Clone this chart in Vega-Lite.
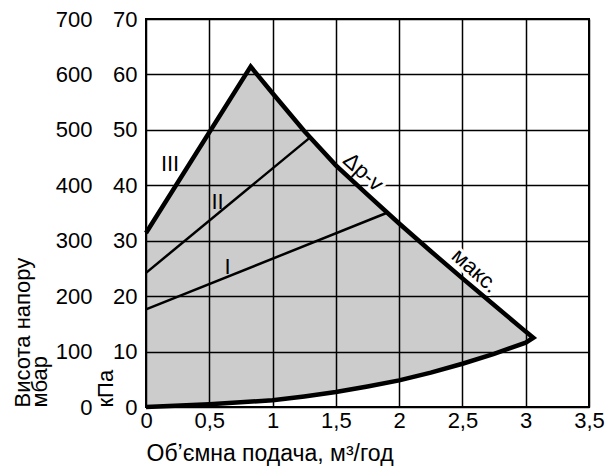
{
  "$schema": "https://vega.github.io/schema/vega-lite/v6.json",
  "width": 443,
  "height": 388,
  "autosize": {"type": "none"},
  "padding": {"left": 146, "top": 19, "right": 20, "bottom": 63},
  "background": "white",
  "config": {
    "view": {"stroke": "black", "strokeWidth": 2},
    "font": "Liberation Sans",
    "axis": {"labelFont": "Liberation Sans", "titleFont": "Liberation Sans", "labelColor": "black", "titleColor": "black", "titleFontWeight": "normal", "labelFontSize": 22, "titleFontSize": 22, "ticks": false, "domain": false}
  },
  "datasets": {
    "region": [
      {"x": 0, "top": 31.4, "bottom": 0},
      {"x": 0.5, "top": 49.9, "bottom": 0.5},
      {"x": 0.827, "top": 61.4, "bottom": 0.9},
      {"x": 1.0, "top": 56.6, "bottom": 1.2},
      {"x": 1.25, "top": 49.8, "bottom": 1.9},
      {"x": 1.5, "top": 43.6, "bottom": 2.7},
      {"x": 1.75, "top": 38.3, "bottom": 3.7},
      {"x": 2.0, "top": 33.1, "bottom": 4.8},
      {"x": 2.25, "top": 28.1, "bottom": 6.2},
      {"x": 2.5, "top": 23.2, "bottom": 7.8},
      {"x": 2.75, "top": 18.4, "bottom": 9.6},
      {"x": 3.0, "top": 13.6, "bottom": 11.6},
      {"x": 3.06, "top": 12.5, "bottom": 12.5}
    ],
    "boundary": [
      {"o": 1, "x": 0, "y": 31.4},
      {"o": 2, "x": 0.827, "y": 61.4},
      {"o": 3, "x": 1.0, "y": 56.6},
      {"o": 4, "x": 1.25, "y": 49.8},
      {"o": 5, "x": 1.5, "y": 43.6},
      {"o": 6, "x": 1.75, "y": 38.3},
      {"o": 7, "x": 2.0, "y": 33.1},
      {"o": 8, "x": 2.25, "y": 28.1},
      {"o": 9, "x": 2.5, "y": 23.2},
      {"o": 10, "x": 2.75, "y": 18.4},
      {"o": 11, "x": 3.0, "y": 13.6},
      {"o": 12, "x": 3.06, "y": 12.5},
      {"o": 13, "x": 3.0, "y": 11.6},
      {"o": 14, "x": 2.75, "y": 9.6},
      {"o": 15, "x": 2.5, "y": 7.8},
      {"o": 16, "x": 2.25, "y": 6.2},
      {"o": 17, "x": 2.0, "y": 4.8},
      {"o": 18, "x": 1.75, "y": 3.7},
      {"o": 19, "x": 1.5, "y": 2.7},
      {"o": 20, "x": 1.25, "y": 1.9},
      {"o": 21, "x": 1.0, "y": 1.2},
      {"o": 22, "x": 0.5, "y": 0.5},
      {"o": 23, "x": 0, "y": 0}
    ],
    "speeds": [
      {"series": "I", "x": 0, "y": 17.6},
      {"series": "I", "x": 1.9, "y": 35.0},
      {"series": "II", "x": 0, "y": 24.2},
      {"series": "II", "x": 1.295, "y": 48.6}
    ],
    "speedLabels": [
      {"label": "III", "x": 0.19, "y": 43.8},
      {"label": "II", "x": 0.565, "y": 37.0},
      {"label": "I", "x": 0.644, "y": 25.3}
    ],
    "curveLabels": [
      {"label": "Δp-v", "x": 1.717, "y": 42.4},
      {"label": "макс.", "x": 2.6, "y": 24.6}
    ]
  },
  "layer": [
    {
      "data": {"name": "region"},
      "mark": {"type": "area", "fill": "black", "fillOpacity": 0.2, "stroke": null},
      "encoding": {
        "x": {
          "field": "x", "type": "quantitative",
          "scale": {"domain": [0, 3.5], "nice": false, "zero": false},
          "axis": {
            "values": [0, 0.5, 1, 1.5, 2, 2.5, 3, 3.5],
            "labelExpr": "replace(format(datum.value, '~g'), '.', ',')",
            "title": "Об’ємна подача, м³/год",
            "titleFontSize": 23,
            "grid": true, "gridColor": "black", "gridWidth": 1.5, "gridOpacity": 1,
            "labelFlush": false, "labelPadding": 3, "labelOverlap": false,
            "titleAnchor": "start", "titleAlign": "left", "titleBaseline": "alphabetic",
            "titleX": 0, "titleY": 53
          }
        },
        "y": {
          "field": "top", "type": "quantitative",
          "scale": {"domain": [0, 70], "nice": false},
          "axis": {
            "orient": "left",
            "values": [0, 10, 20, 30, 40, 50, 60, 70],
            "title": "кПа",
            "grid": true, "gridColor": "black", "gridWidth": 1.5, "gridOpacity": 1,
            "labelPadding": 9, "labelOverlap": false, "labelFlush": false,
            "titleAngle": 270, "titleAlign": "left", "titleBaseline": "alphabetic",
            "titleX": -34, "titleY": 388
          }
        },
        "y2": {"field": "bottom"}
      }
    },
    {
      "data": {"name": "curveLabels"},
      "mark": {"type": "text", "angle": 42, "align": "center", "baseline": "middle", "fontSize": 22, "font": "Liberation Sans", "fill": "white", "stroke": "white", "strokeWidth": 6, "strokeJoin": "round"},
      "encoding": {
        "x": {"field": "x", "type": "quantitative"},
        "y": {"field": "y", "type": "quantitative", "axis": null},
        "text": {"field": "label"}
      }
    },
    {
      "data": {"name": "boundary"},
      "mark": {"type": "line", "color": "black", "strokeWidth": 4.5, "strokeJoin": "miter", "strokeMiterLimit": 10},
      "encoding": {
        "x": {"field": "x", "type": "quantitative"},
        "y": {
          "field": "y", "type": "quantitative",
          "axis": {
            "orient": "left", "offset": 45,
            "values": [0, 10, 20, 30, 40, 50, 60, 70],
            "labelExpr": "format(datum.value * 10, 'd')",
            "grid": false, "labelPadding": 9, "labelOverlap": false, "labelFlush": false,
            "title": ["Висота напору", "мбар"],
            "titleAngle": 270, "titleAlign": "left", "titleBaseline": "alphabetic",
            "titleLineHeight": 17,
            "titleX": -72, "titleY": 388
          }
        },
        "order": {"field": "o"}
      }
    },
    {
      "data": {"name": "speeds"},
      "mark": {"type": "line", "color": "black", "strokeWidth": 2.5},
      "encoding": {
        "x": {"field": "x", "type": "quantitative"},
        "y": {"field": "y", "type": "quantitative", "axis": null},
        "detail": {"field": "series"}
      }
    },
    {
      "data": {"name": "curveLabels"},
      "mark": {"type": "text", "angle": 42, "align": "center", "baseline": "middle", "fontSize": 22, "font": "Liberation Sans", "fill": "black"},
      "encoding": {
        "x": {"field": "x", "type": "quantitative"},
        "y": {"field": "y", "type": "quantitative", "axis": null},
        "text": {"field": "label"}
      }
    },
    {
      "data": {"name": "speedLabels"},
      "mark": {"type": "text", "align": "center", "baseline": "middle", "fontSize": 22, "font": "Liberation Sans", "fill": "black"},
      "encoding": {
        "x": {"field": "x", "type": "quantitative"},
        "y": {"field": "y", "type": "quantitative", "axis": null},
        "text": {"field": "label"}
      }
    }
  ],
  "resolve": {"axis": {"y": "independent"}}
}
